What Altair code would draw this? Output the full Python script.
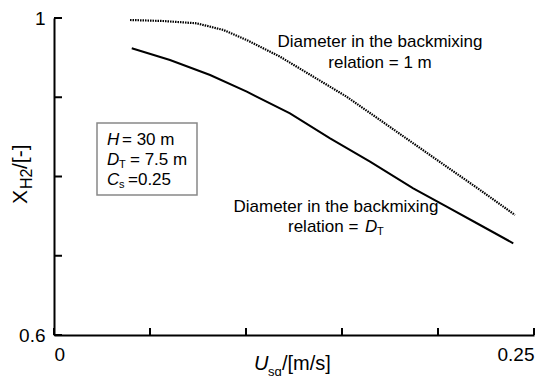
import altair as alt
import pandas as pd

# ---- data ----
solid_u = [0.0405, 0.0604, 0.0813, 0.1004, 0.1229, 0.1438, 0.1646, 0.1871, 0.2045, 0.2219, 0.2392]
solid_x = [0.9618, 0.9470, 0.9281, 0.9070, 0.8797, 0.8482, 0.8187, 0.7851, 0.7619, 0.7388, 0.7157]

dotted_u = [0.0396, 0.0569, 0.0743, 0.0882, 0.1004, 0.1177, 0.1351, 0.1524, 0.1698, 0.1871, 0.2045, 0.2219, 0.2401]
dotted_x = [0.9975, 0.9962, 0.9933, 0.9849, 0.9722, 0.9512, 0.9259, 0.9007, 0.8713, 0.8419, 0.8124, 0.7830, 0.7514]

x_tick_values = [0, 0.05, 0.10, 0.15, 0.20, 0.25]
y_tick_values = [0.6, 0.7, 0.8, 0.9, 1.0]
x_label_values = [0, 0.25]
y_label_values = [0.6, 1.0]

FONT = "Liberation Sans"
W, H = 480, 317

xs = alt.Scale(domain=[0, 0.25], nice=False, zero=False)
ys = alt.Scale(domain=[0.6, 1.0], nice=False, zero=False)

x_axis = alt.Axis(values=x_label_values, format=".2~f", title=None, grid=False,
                  tickSize=0, labelPadding=10, domainColor="black", domainWidth=2,
                  labelFont=FONT, labelFontSize=19, labelColor="black")
y_axis = alt.Axis(values=y_label_values, format=".1~f", title=None, grid=False,
                  tickSize=0, labelPadding=9, domainColor="black", domainWidth=2,
                  labelFont=FONT, labelFontSize=19, labelColor="black")

solid_df = pd.DataFrame({"u": solid_u, "x": solid_x})
dotted_df = pd.DataFrame({"u": dotted_u, "x": dotted_x})

solid = alt.Chart(solid_df).mark_line(color="black", strokeWidth=2).encode(
    x=alt.X("u:Q", scale=xs, axis=x_axis),
    y=alt.Y("x:Q", scale=ys, axis=y_axis),
)
dotted = alt.Chart(dotted_df).mark_line(color="black", strokeWidth=2.2, strokeDash=[1.5, 1.0]).encode(
    x=alt.X("u:Q", scale=xs, axis=x_axis),
    y=alt.Y("x:Q", scale=ys, axis=y_axis),
)

yticks = alt.Chart(pd.DataFrame({"v": y_tick_values})).mark_rule(color="black", strokeWidth=2).encode(
    y=alt.Y("v:Q", scale=ys, axis=y_axis),
    x=alt.value(0), x2=alt.value(8),
)
xticks = alt.Chart(pd.DataFrame({"v": x_tick_values})).mark_rule(color="black", strokeWidth=2).encode(
    x=alt.X("v:Q", scale=xs, axis=x_axis),
    y=alt.value(H), y2=alt.value(H - 7),
)

box = alt.Chart(alt.Data(values=[{}])).mark_rect(
    fill="white", stroke="#888", strokeWidth=1.5
).encode(x=alt.value(43), x2=alt.value(143), y=alt.value(105), y2=alt.value(177))


def txt(s, x, y, size=17, italic=False, align="left", angle=0):
    return alt.Chart(alt.Data(values=[{}])).mark_text(
        text=s, font=FONT, fontSize=size,
        fontStyle="italic" if italic else "normal",
        align=align, baseline="alphabetic", angle=angle, color="black",
    ).encode(x=alt.value(x), y=alt.value(y))


texts = [
    # parameter box
    txt("H", 53, 127, 17, italic=True), txt("= 30 m", 68, 127, 17),
    txt("D", 53, 147, 17, italic=True), txt("T", 65, 150, 11), txt("= 7.5 m", 76, 147, 17),
    txt("C", 53, 167, 17, italic=True), txt("s", 65, 170, 11), txt("=0.25", 74, 167, 17),
    # annotation upper curve
    txt("Diameter in the backmixing", 326, 29, 17, align="center"),
    txt("relation = 1 m", 326, 50, 17, align="center"),
    # annotation lower curve
    txt("Diameter in the backmixing", 282, 194, 17, align="center"),
    txt("relation =", 234, 214, 17),
    txt("D", 311, 214, 17, italic=True), txt("T", 323, 217, 11),
    # x title
    txt("U", 200, 352, 20, italic=True), txt("sg", 214, 358, 13), txt("/[m/s]", 228, 352, 20),
    # y title (rotated)
    txt("X", -27, 186, 21, angle=270), txt("H2", -22, 171, 16, angle=270),
    txt("/[-]", -27, 151, 21, angle=270),
]

chart = alt.layer(solid, dotted, yticks, xticks, box, *texts).properties(
    width=W, height=H,
    autosize=alt.AutoSizeParams(type="none"),
    padding={"left": 46, "top": 10, "right": 10, "bottom": 41},
).configure_view(stroke=None)

chart.save("out.html", embed_options={"renderer": "svg", "actions": False})
